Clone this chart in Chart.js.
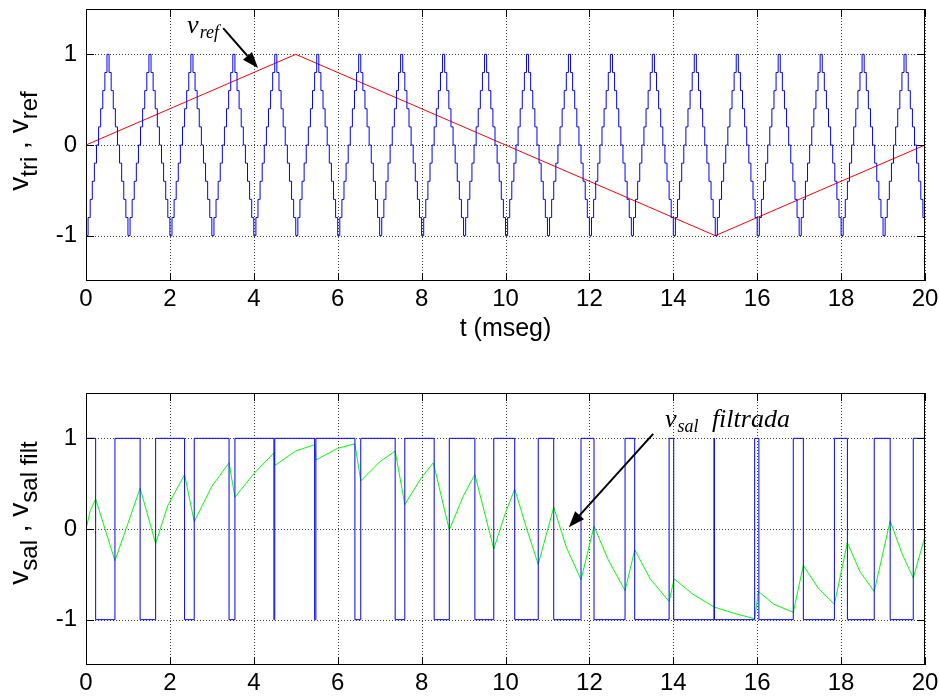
<!DOCTYPE html>
<html>
<head>
<meta charset="utf-8">
<script src="https://cdn.jsdelivr.net/npm/chart.js@4.4.0/dist/chart.umd.min.js"></script>
<style>
  html, body { margin: 0; padding: 0; background: #fff; }
  #wrap { position: relative; width: 939px; height: 699px; }
  canvas { position: absolute; left: 0; }
  #top { top: 0; }
  #bot { top: 350px; }
</style>
</head>
<body>
<div id="wrap">
  <canvas id="top" width="939" height="350" style="width:939px;height:350px"></canvas>
  <canvas id="bot" width="939" height="349" style="width:939px;height:349px"></canvas>
</div>
<script>
// axis ticks
const tTicks = [0, 2, 4, 6, 8, 10, 12, 14, 16, 18, 20];
const vTicks = [-1, 0, 1];

// reference wave v_ref (ms, level)
const refT = [0, 5, 15, 20];
const refV = [0, 1, -1, 0];

// triangular carrier v_tri, sampled every 0.05 ms, one row per ms
const triDt = 0.05;
const triV = [
  -1,-.8,-.6,-.4,-.2,0,.2,.4,.6,.8,1,.8,.6,.4,.2,0,-.2,-.4,-.6,-.8,
  -1,-.8,-.6,-.4,-.2,0,.2,.4,.6,.8,1,.8,.6,.4,.2,0,-.2,-.4,-.6,-.8,
  -1,-.8,-.6,-.4,-.2,0,.2,.4,.6,.8,1,.8,.6,.4,.2,0,-.2,-.4,-.6,-.8,
  -1,-.8,-.6,-.4,-.2,0,.2,.4,.6,.8,1,.8,.6,.4,.2,0,-.2,-.4,-.6,-.8,
  -1,-.8,-.6,-.4,-.2,0,.2,.4,.6,.8,1,.8,.6,.4,.2,0,-.2,-.4,-.6,-.8,
  -1,-.8,-.6,-.4,-.2,0,.2,.4,.6,.8,1,.8,.6,.4,.2,0,-.2,-.4,-.6,-.8,
  -1,-.8,-.6,-.4,-.2,0,.2,.4,.6,.8,1,.8,.6,.4,.2,0,-.2,-.4,-.6,-.8,
  -1,-.8,-.6,-.4,-.2,0,.2,.4,.6,.8,1,.8,.6,.4,.2,0,-.2,-.4,-.6,-.8,
  -1,-.8,-.6,-.4,-.2,0,.2,.4,.6,.8,1,.8,.6,.4,.2,0,-.2,-.4,-.6,-.8,
  -1,-.8,-.6,-.4,-.2,0,.2,.4,.6,.8,1,.8,.6,.4,.2,0,-.2,-.4,-.6,-.8,
  -1,-.8,-.6,-.4,-.2,0,.2,.4,.6,.8,1,.8,.6,.4,.2,0,-.2,-.4,-.6,-.8,
  -1,-.8,-.6,-.4,-.2,0,.2,.4,.6,.8,1,.8,.6,.4,.2,0,-.2,-.4,-.6,-.8,
  -1,-.8,-.6,-.4,-.2,0,.2,.4,.6,.8,1,.8,.6,.4,.2,0,-.2,-.4,-.6,-.8,
  -1,-.8,-.6,-.4,-.2,0,.2,.4,.6,.8,1,.8,.6,.4,.2,0,-.2,-.4,-.6,-.8,
  -1,-.8,-.6,-.4,-.2,0,.2,.4,.6,.8,1,.8,.6,.4,.2,0,-.2,-.4,-.6,-.8,
  -1,-.8,-.6,-.4,-.2,0,.2,.4,.6,.8,1,.8,.6,.4,.2,0,-.2,-.4,-.6,-.8,
  -1,-.8,-.6,-.4,-.2,0,.2,.4,.6,.8,1,.8,.6,.4,.2,0,-.2,-.4,-.6,-.8,
  -1,-.8,-.6,-.4,-.2,0,.2,.4,.6,.8,1,.8,.6,.4,.2,0,-.2,-.4,-.6,-.8,
  -1,-.8,-.6,-.4,-.2,0,.2,.4,.6,.8,1,.8,.6,.4,.2,0,-.2,-.4,-.6,-.8,
  -1,-.8,-.6,-.4,-.2,0,.2,.4,.6,.8,1,.8,.6,.4,.2,0,-.2,-.4,-.6,-.8,
  -1
];

// switched output v_sal: switching instants (ms) and level after each one
const salT = [0, 0.23, 0.69, 1.29, 1.66, 2.35, 2.58, 3.41, 3.55, 4.48,
              4.50, 5.45, 5.48, 6.41, 6.55, 7.37, 7.60, 8.30, 8.66, 9.27,
              9.72, 10.22, 10.78, 11.15, 11.80, 12.11, 12.85, 13.08, 13.90, 14.01,
              14.97, 14.98, 15.94, 16.04, 16.86, 17.10, 17.84, 18.15, 18.79, 19.17,
              19.72, 20];
const salV = [1, -1, 1, -1, 1, -1, 1, -1, 1, -1,
              1, -1, 1, -1, 1, -1, 1, -1, 1, -1,
              1, -1, 1, -1, 1, -1, 1, -1, 1, -1,
              1, -1, 1, -1, 1, -1, 1, -1, 1, -1,
              1, 1];

// filtered output v_sal filt
const filtT = [0, 0.1, 0.23, 0.69, 1.0, 1.29, 1.66, 1.95, 2.35, 2.58,
               3.0, 3.41, 3.55, 4.0, 4.48, 4.50, 5.0, 5.45, 5.48, 6.0,
               6.41, 6.55, 7.0, 7.37, 7.60, 8.0, 8.28, 8.66, 9.0, 9.27,
               9.72, 10.0, 10.22, 10.5, 10.78, 11.15, 11.45, 11.80, 12.11, 12.45,
               12.85, 13.08, 13.45, 13.90, 14.02, 14.47, 14.97, 15.45, 15.94, 16.03,
               16.4, 16.86, 17.10, 17.45, 17.84, 18.15, 18.45, 18.79, 19.17, 19.45,
               19.72, 20.0];
const filtV = [0, 0.2, 0.33, -0.35, 0.06, 0.45, -0.16, 0.26, 0.60, 0.08,
               0.47, 0.73, 0.35, 0.61, 0.84, 0.70, 0.86, 0.93, 0.76, 0.89,
               0.94, 0.53, 0.74, 0.86, 0.27, 0.57, 0.73, -0.01, 0.37, 0.60,
               -0.22, 0.18, 0.44, 0.01, -0.39, 0.24, -0.20, -0.56, 0.03, -0.34,
               -0.68, -0.23, -0.55, -0.80, -0.55, -0.72, -0.86, -0.93, -0.99, -0.69,
               -0.83, -0.92, -0.40, -0.65, -0.83, -0.15, -0.47, -0.69, 0.09, -0.27,
               -0.54, -0.08];

const SANS = '"Liberation Sans", Arial, Helvetica, sans-serif';
const SERIF = '"Liberation Serif", "Times New Roman", serif';

const pts = (xs, ys) => xs.map((x, i) => ({ x: x, y: ys[i] }));

// dotted grid under the traces, box and inward ticks on top
const frame = {
  id: 'frame',
  beforeDatasetsDraw(chart) {
    const { ctx, chartArea: a, scales: { x, y } } = chart;
    ctx.save();
    ctx.strokeStyle = 'rgba(0,0,0,0.75)';
    ctx.lineWidth = 1;
    ctx.setLineDash([1, 2]);
    ctx.beginPath();
    tTicks.forEach(t => {
      const px = Math.round(x.getPixelForValue(t)) + 0.5;
      ctx.moveTo(px, a.top); ctx.lineTo(px, a.bottom);
    });
    vTicks.forEach(v => {
      const py = Math.round(y.getPixelForValue(v)) + 0.5;
      ctx.moveTo(a.left, py); ctx.lineTo(a.right, py);
    });
    ctx.stroke();
    ctx.restore();
  },
  afterDatasetsDraw(chart) {
    const { ctx, chartArea: a, scales: { x, y } } = chart;
    const tl = 8;
    ctx.save();
    ctx.strokeStyle = '#000';
    ctx.lineWidth = 1;
    ctx.strokeRect(a.left + 0.5, a.top + 0.5, a.width - 1, a.height - 1);
    ctx.beginPath();
    tTicks.forEach(t => {
      const px = Math.round(x.getPixelForValue(t)) + 0.5;
      ctx.moveTo(px, a.bottom); ctx.lineTo(px, a.bottom - tl);
      ctx.moveTo(px, a.top); ctx.lineTo(px, a.top + tl);
    });
    vTicks.forEach(v => {
      const py = Math.round(y.getPixelForValue(v)) + 0.5;
      ctx.moveTo(a.left, py); ctx.lineTo(a.left + tl, py);
      ctx.moveTo(a.right, py); ctx.lineTo(a.right - tl, py);
    });
    ctx.stroke();
    ctx.restore();
  }
};

// rotated y label with subscripts
const yLabel = {
  id: 'yLabel',
  afterDraw(chart, args, o) {
    const ctx = chart.ctx;
    const big = '28px ' + SANS, small = '24px ' + SANS;
    ctx.save();
    let w = 0;
    o.parts.forEach(p => { ctx.font = p[1] ? small : big; w += ctx.measureText(p[0]).width; });
    const a = chart.chartArea;
    ctx.translate(o.x, (a.top + a.bottom) / 2 + o.shift);
    ctx.rotate(-Math.PI / 2);
    ctx.fillStyle = '#000';
    ctx.textAlign = 'left';
    ctx.textBaseline = 'alphabetic';
    let cx = -w / 2;
    o.parts.forEach(p => {
      ctx.font = p[1] ? small : big;
      ctx.fillText(p[0], cx, p[1] ? 9 : 0);
      cx += ctx.measureText(p[0]).width;
    });
    ctx.restore();
  }
};

// italic annotation with an arrow pointing at a trace
const note = {
  id: 'note',
  afterDatasetsDraw(chart, args, o) {
    const { ctx, scales: { x, y } } = chart;
    ctx.save();
    ctx.fillStyle = '#000';
    ctx.strokeStyle = '#000';
    ctx.textBaseline = 'alphabetic';
    let px = x.getPixelForValue(o.at[0]);
    const py = y.getPixelForValue(o.at[1]);
    ctx.font = 'italic 26px ' + SERIF;
    ctx.fillText('v', px, py);
    px += ctx.measureText('v').width + 1;
    ctx.font = 'italic 18px ' + SERIF;
    ctx.fillText(o.sub, px, py + 5);
    if (o.tail) {
      ctx.font = 'italic 26px ' + SERIF;
      ctx.fillText(o.tail, x.getPixelForValue(o.tailAt), py);
    }
    const x0 = x.getPixelForValue(o.from[0]), y0 = y.getPixelForValue(o.from[1]);
    const x1 = x.getPixelForValue(o.to[0]), y1 = y.getPixelForValue(o.to[1]);
    const ang = Math.atan2(y1 - y0, x1 - x0), c = Math.cos(ang), s = Math.sin(ang);
    const hl = 16, hw = 6;
    ctx.lineWidth = 2;
    ctx.beginPath();
    ctx.moveTo(x0, y0);
    ctx.lineTo(x1 - hl * c, y1 - hl * s);
    ctx.stroke();
    ctx.beginPath();
    ctx.moveTo(x1, y1);
    ctx.lineTo(x1 - hl * c + hw * s, y1 - hl * s - hw * c);
    ctx.lineTo(x1 - hl * c - hw * s, y1 - hl * s + hw * c);
    ctx.closePath();
    ctx.fill();
    ctx.restore();
  }
};

function panel(id, datasets, o) {
  return new Chart(document.getElementById(id), {
    type: 'line',
    data: { datasets: datasets },
    options: {
      responsive: false,
      animation: false,
      events: [],
      layout: { padding: { top: o.top, right: 14, left: 0, bottom: 0 } },
      elements: { point: { radius: 0 }, line: { borderWidth: 1, tension: 0 } },
      plugins: {
        legend: { display: false },
        tooltip: { enabled: false },
        yLabel: o.yLabel,
        note: o.note
      },
      scales: {
        x: {
          type: 'linear', min: 0, max: 20,
          grid: { display: false, drawTicks: false },
          border: { display: false },
          afterBuildTicks: s => { s.ticks = tTicks.map(v => ({ value: v })); },
          afterFit: s => { s.height = o.xHeight; s.paddingLeft = 0; s.paddingRight = 0; },
          ticks: { color: '#000', font: { family: SANS, size: 24 }, padding: 4, maxRotation: 0, autoSkip: false },
          title: o.xTitle
            ? { display: true, text: o.xTitle, color: '#000', font: { family: SANS, size: 25 }, padding: { top: 0, bottom: 6 } }
            : { display: false }
        },
        y: {
          type: 'linear', min: -1.5, max: 1.5,
          grid: { display: false, drawTicks: false },
          border: { display: false },
          afterBuildTicks: s => { s.ticks = vTicks.map(v => ({ value: v })); },
          afterFit: s => { s.width = 86; s.paddingTop = 0; s.paddingBottom = 0; },
          ticks: { color: '#000', font: { family: SANS, size: 24 }, padding: 9 }
        }
      }
    },
    plugins: [frame, yLabel, note]
  });
}

const triT = triV.map((v, i) => i * triDt);

panel('top', [
  { data: pts(triT, triV), borderColor: '#0000ff', stepped: true },
  { data: pts(refT, refV), borderColor: '#ff0000' }
], {
  top: 9, xHeight: 69, xTitle: 't (mseg)',
  yLabel: { x: 28, shift: -4, parts: [['v', 0], ['tri', 1], [' , ', 0], ['v', 0], ['ref', 1]] },
  note: { at: [2.41, 1.235], sub: 'ref', from: [3.27, 1.29], to: [4.10, 0.85] }
});

panel('bot', [
  { data: pts(salT, salV), borderColor: '#0000ff', stepped: true },
  { data: pts(filtT, filtV), borderColor: '#00ff00' }
], {
  top: 43, xHeight: 34,
  yLabel: { x: 28, shift: -16, parts: [['v', 0], ['sal', 1], [' , ', 0], ['v', 0], ['sal filt', 1]] },
  note: { at: [13.80, 1.125], sub: 'sal', tail: 'filtrada', tailAt: 14.92, from: [13.52, 1.05], to: [11.51, 0.02] }
});
</script>
</body>
</html>
